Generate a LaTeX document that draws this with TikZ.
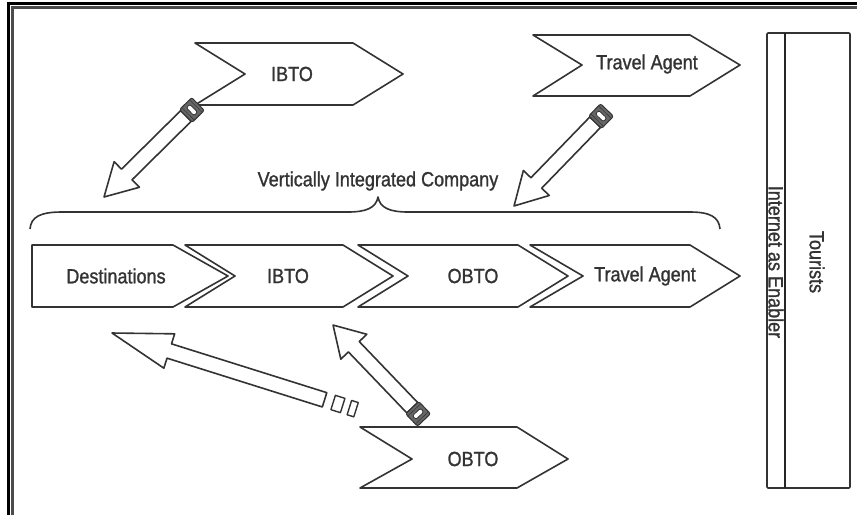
\documentclass[tikz,border=0pt]{standalone}
\usepackage{fontspec}
\setmainfont{Liberation Sans}[FakeStretch=0.88, FakeBold=1.2]
\usetikzlibrary{calc}
\tikzset{
  shapeline/.style={draw=black!80, line width=1.6pt, line join=round},
  lbl/.style={font=\fontsize{20.5}{24}\selectfont, text=black!80, inner sep=0pt},
}
% direction and length between two named points
\newcommand\getdir[2]{%
  \path let \p1=($(#2)-(#1)$) in \pgfextra{%
    \pgfmathsetmacro\arAngTmp{atan2(\y1,\x1)}%
    \pgfmathsetmacro\arLenTmp{veclen(\x1,\y1)}%
    \global\let\arAng\arAngTmp \global\let\arLen\arLenTmp};%
}
\newcommand\capparrow[3]{% tail, tip, head length
  \getdir{#1}{#2}%
  \begin{scope}[shift={(#1)}, rotate=\arAng, x=1pt, y=1pt]
    \draw[shapeline, fill=white] (17,-7.5) -- ({\arLen-#3},-7.5) -- ({\arLen-#3},-18) -- (\arLen,0)
      -- ({\arLen-#3},18) -- ({\arLen-#3},7.5) -- (17,7.5) -- cycle;
    \filldraw[fill=black!60, draw=black!80, line width=1pt, rounded corners=2pt] (0,-9) rectangle (17,9);
    \filldraw[fill=black!25, draw=black!80, line width=0.6pt] (3,-9) -- (3,9) (14,-9) -- (14,9);
    \filldraw[fill=white, draw=black!80, line width=0.8pt, rounded corners=2pt] (6,-5.5) rectangle (11,5.5);
  \end{scope}
}
\newcommand\brokenarrow[3]{% tail, tip, head length
  \getdir{#1}{#2}%
  \begin{scope}[shift={(#1)}, rotate=\arAng, x=1pt, y=1pt]
    \draw[shapeline, fill=white] (34,-7.5) -- ({\arLen-#3},-7.5) -- ({\arLen-#3},-18) -- (\arLen,0)
      -- ({\arLen-#3},18) -- ({\arLen-#3},7.5) -- (34,7.5) -- cycle;
    \draw[shapeline, line width=1.4pt] (15,-7.5) rectangle (25,7.5);
    \draw[shapeline, line width=1.4pt] (1,-7.5) rectangle (8,7.5);
  \end{scope}
}
\begin{document}
\begin{tikzpicture}[x=1pt, y=-1pt]
\useasboundingbox (0,0) rectangle (857,515);
% frame (top and left)
\draw[black, line width=3pt] (8.5,515) -- (8.5,3) -- (857,3);
\draw[black!70, line width=3pt] (12.5,515) -- (12.5,7.5) -- (857,7.5);

% top chevrons
\draw[shapeline] (195,43) -- (353,43) -- (403,74) -- (353,105) -- (195,105) -- (245,74) -- cycle;
\node[lbl] (ibtoTop) at (292,74) {IBTO};
\draw[shapeline] (533,35) -- (690,35) -- (740,65) -- (690,96) -- (533,96) -- (582,65) -- cycle;
\node[lbl] (taTop) at (647,64) {Travel Agent};

% brace and its label
\draw[shapeline] (30,229) .. controls (31,217) and (40,212) .. (62,212) -- (348,212)
  .. controls (366,212) and (376,208) .. (378,197)
  .. controls (380,208) and (390,212) .. (408,212) -- (690,212)
  .. controls (710,212) and (719,217) .. (720,229);
\node[lbl] (vic) at (378,181) {Vertically Integrated Company};

% main row
\draw[shapeline] (32,245) -- (173,245) -- (228,276) -- (173,307) -- (32,307) -- cycle;
\node[lbl] (dest) at (116,276) {Destinations};
\draw[shapeline] (185,245) -- (343,245) -- (393,276) -- (343,307) -- (185,307) -- (235,276) -- cycle;
\node[lbl] (ibto) at (288,276) {IBTO};
\draw[shapeline] (358,245) -- (518,245) -- (568,276) -- (518,307) -- (358,307) -- (408,276) -- cycle;
\node[lbl] (obto) at (473,276) {OBTO};
\draw[shapeline] (530,245) -- (690,245) -- (740,276) -- (690,307) -- (530,307) -- (583,276) -- cycle;
\node[lbl] (ta) at (645,276) {Travel Agent};

% lower chevron
\draw[shapeline] (360,427) -- (517,427) -- (568,459) -- (517,488) -- (360,488) -- (412,459) -- cycle;
\node[lbl] (obtoLow) at (473,459) {OBTO};

% right panel
\draw[shapeline, rounded corners=1pt] (767,33) rectangle (850,488);
\draw[black!85, line width=2.6pt] (785,33) -- (785,488);
\node[lbl, rotate=-90] (net) at (776,262) {Internet as Enabler};
\node[lbl, rotate=-90] (tour) at (817,262) {Tourists};

% arrows
\coordinate (a1t) at (198,104);
\coordinate (a1h) at (104,197);
\coordinate (a2t) at (607,110);
\coordinate (a2h) at (514,206);
\coordinate (a3t) at (424,420);
\coordinate (a3h) at (333,325);
\coordinate (a4t) at (357,410);
\coordinate (a4h) at (112,333);
\capparrow{a1t}{a1h}{32}
\capparrow{a2t}{a2h}{32}
\capparrow{a3t}{a3h}{30}
\brokenarrow{a4t}{a4h}{60}
\end{tikzpicture}
\end{document}
